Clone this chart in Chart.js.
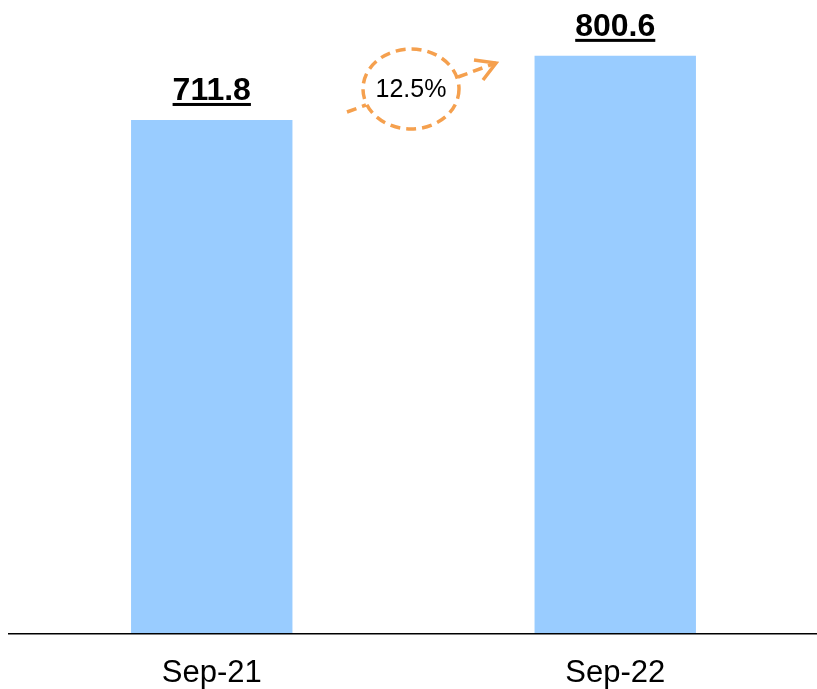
<!DOCTYPE html>
<html>
<head>
<meta charset="utf-8">
<script src="https://cdn.jsdelivr.net/npm/chart.js@4/dist/chart.umd.min.js"></script>
<style>
  html, body { margin: 0; padding: 0; background: #fff; }
  #wrap { width: 817px; height: 689px; }
</style>
</head>
<body>
<div id="wrap"><canvas id="chart"></canvas></div>
<script>
const categories = ["Sep-21", "Sep-22"];
const values = [711.8, 800.6];
const growthLabel = "12.5%";

const orange = "#F5A04E";
const fontFam = "'Liberation Sans', Arial, sans-serif";

// bold underlined value over each bar
const valueLabels = {
  id: "valueLabels",
  afterDatasetsDraw(chart) {
    const ctx = chart.ctx;
    const meta = chart.getDatasetMeta(0);
    ctx.save();
    ctx.font = "bold 32px " + fontFam;
    ctx.fillStyle = "#000";
    ctx.textAlign = "center";
    ctx.textBaseline = "alphabetic";
    meta.data.forEach((bar, i) => {
      const txt = values[i].toFixed(1);
      const y = bar.y - 20;
      ctx.fillText(txt, bar.x, y);
      const w = ctx.measureText(txt).width;
      ctx.fillRect(bar.x - w / 2, y + 3, w, 3);
    });
    ctx.restore();
  }
};

// baseline axis line + dashed growth bubble with arrow
const growth = {
  id: "growth",
  afterDraw(chart) {
    const ctx = chart.ctx;
    const yb = chart.scales.y.getPixelForValue(0);
    ctx.save();
    ctx.strokeStyle = "#000";
    ctx.lineWidth = 1.5;
    ctx.beginPath();
    ctx.moveTo(8, yb);
    ctx.lineTo(chart.width, yb);
    ctx.stroke();

    const cx = 411, cy = 89;
    ctx.strokeStyle = orange;
    ctx.lineWidth = 3.5;
    ctx.setLineDash([10, 6]);
    ctx.beginPath();
    ctx.ellipse(cx, cy, 48, 40, 0, 0, Math.PI * 2);
    ctx.stroke();
    ctx.beginPath();
    ctx.moveTo(347, 112);
    ctx.lineTo(366, 105);
    ctx.moveTo(458, 77);
    ctx.lineTo(496, 63);
    ctx.stroke();
    ctx.setLineDash([]);
    ctx.beginPath();
    ctx.moveTo(474, 60);
    ctx.lineTo(496, 63);
    ctx.lineTo(483, 80);
    ctx.stroke();
    ctx.fillStyle = "#000";
    ctx.font = "25px " + fontFam;
    ctx.textAlign = "center";
    ctx.textBaseline = "middle";
    ctx.fillText(growthLabel, cx, cy + 1);
    ctx.restore();
  }
};

new Chart(document.getElementById("chart"), {
  type: "bar",
  data: {
    labels: categories,
    datasets: [{
      data: values,
      backgroundColor: "#99CCFF",
      barPercentage: 0.4,
      categoryPercentage: 1
    }]
  },
  options: {
    responsive: true,
    maintainAspectRatio: false,
    animation: false,
    layout: { padding: { left: 10, right: 0, top: 0, bottom: -24 } },
    plugins: {
      legend: { display: false },
      tooltip: { enabled: false }
    },
    scales: {
      x: {
        grid: { display: false, drawTicks: false },
        border: { display: false },
        ticks: {
          color: "#000",
          padding: 21,
          font: { family: fontFam, size: 31 }
        }
      },
      y: {
        display: false,
        min: 0,
        max: 878
      }
    }
  },
  plugins: [valueLabels, growth]
});
</script>
</body>
</html>
